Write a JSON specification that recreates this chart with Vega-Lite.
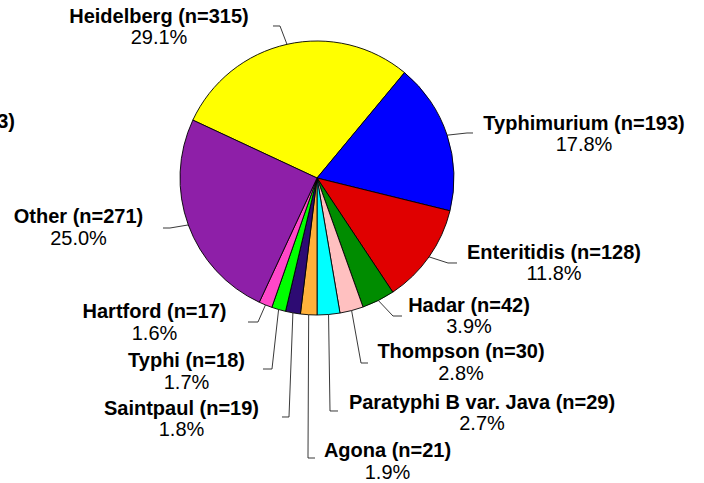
{
  "$schema": "https://vega.github.io/schema/vega-lite/v6.json",
  "autosize": "none",
  "width": 634,
  "height": 356,
  "padding": {"left": 0, "top": 0, "right": 70, "bottom": 127},
  "background": "white",
  "config": {"view": {"stroke": null}},
  "datasets": {
    "slices": [
      {"idx": 0, "name": "Heidelberg", "n": 315},
      {"idx": 1, "name": "Typhimurium", "n": 193},
      {"idx": 2, "name": "Enteritidis", "n": 128},
      {"idx": 3, "name": "Hadar", "n": 42},
      {"idx": 4, "name": "Thompson", "n": 30},
      {"idx": 5, "name": "Paratyphi B var. Java", "n": 29},
      {"idx": 6, "name": "Agona", "n": 21},
      {"idx": 7, "name": "Saintpaul", "n": 19},
      {"idx": 8, "name": "Typhi", "n": 18},
      {"idx": 9, "name": "Hartford", "n": 17},
      {"idx": 10, "name": "Other", "n": 271}
    ],
    "labels": [
      {"label": "Heidelberg (n=315)", "pct": "29.1%", "x": -1.1533, "y": 1.1314},
      {"label": "Typhimurium (n=193)", "pct": "17.8%", "x": 1.9489, "y": 0.3504},
      {"label": "Enteritidis (n=128)", "pct": "11.8%", "x": 1.7299, "y": -0.5912},
      {"label": "Hadar (n=42)", "pct": "3.9%", "x": 1.1095, "y": -0.9781},
      {"label": "Thompson (n=30)", "pct": "2.8%", "x": 1.0511, "y": -1.3139},
      {"label": "Paratyphi B var. Java (n=29)", "pct": "2.7%", "x": 1.2044, "y": -1.6861},
      {"label": "Agona (n=21)", "pct": "1.9%", "x": 0.5146, "y": -2.0365},
      {"label": "Saintpaul (n=19)", "pct": "1.8%", "x": -0.9891, "y": -1.7299},
      {"label": "Typhi (n=18)", "pct": "1.7%", "x": -0.9526, "y": -1.3796},
      {"label": "Hartford (n=17)", "pct": "1.6%", "x": -1.1861, "y": -1.0219},
      {"label": "Other (n=271)", "pct": "25.0%", "x": -1.7409, "y": -0.3285}
    ],
    "title": [
      {"label": "All serotypes (n=1083)", "x": -2.2044, "y": 0.365}
    ],
    "leaders": [
      {"s": "Heidelberg", "o": 0, "x": -0.219, "y": 0.9757},
      {"s": "Heidelberg", "o": 1, "x": -0.2701, "y": 1.1095},
      {"s": "Heidelberg", "o": 2, "x": -0.3212, "y": 1.1095},
      {"s": "Typhimurium", "o": 0, "x": 0.9499, "y": 0.3125},
      {"s": "Typhimurium", "o": 1, "x": 1.0949, "y": 0.3285},
      {"s": "Typhimurium", "o": 2, "x": 1.1387, "y": 0.3285},
      {"s": "Enteritidis", "o": 0, "x": 0.8177, "y": -0.5757},
      {"s": "Enteritidis", "o": 1, "x": 0.9562, "y": -0.6204},
      {"s": "Enteritidis", "o": 2, "x": 1.0219, "y": -0.6204},
      {"s": "Hadar", "o": 0, "x": 0.4477, "y": -0.8942},
      {"s": "Hadar", "o": 1, "x": 0.5547, "y": -1.0073},
      {"s": "Hadar", "o": 2, "x": 0.6204, "y": -1.0073},
      {"s": "Thompson", "o": 0, "x": 0.2526, "y": -0.9676},
      {"s": "Thompson", "o": 1, "x": 0.3212, "y": -1.3504},
      {"s": "Thompson", "o": 2, "x": 0.3723, "y": -1.3504},
      {"s": "Paratyphi", "o": 0, "x": 0.0842, "y": -0.9964},
      {"s": "Paratyphi", "o": 1, "x": 0.0949, "y": -1.7007},
      {"s": "Paratyphi", "o": 2, "x": 0.1533, "y": -1.7007},
      {"s": "Agona", "o": 0, "x": -0.0607, "y": -0.9982},
      {"s": "Agona", "o": 1, "x": -0.0657, "y": -2.0438},
      {"s": "Agona", "o": 2, "x": -0.0146, "y": -2.0438},
      {"s": "Saintpaul", "o": 0, "x": -0.1759, "y": -0.9844},
      {"s": "Saintpaul", "o": 1, "x": -0.2044, "y": -1.7445},
      {"s": "Saintpaul", "o": 2, "x": -0.2555, "y": -1.7445},
      {"s": "Typhi", "o": 0, "x": -0.2803, "y": -0.9599},
      {"s": "Typhi", "o": 1, "x": -0.3285, "y": -1.3942},
      {"s": "Typhi", "o": 2, "x": -0.3942, "y": -1.3942},
      {"s": "Hartford", "o": 0, "x": -0.3762, "y": -0.9265},
      {"s": "Hartford", "o": 1, "x": -0.4307, "y": -1.0511},
      {"s": "Hartford", "o": 2, "x": -0.5036, "y": -1.0511},
      {"s": "Other", "o": 0, "x": -0.9395, "y": -0.3427},
      {"s": "Other", "o": 1, "x": -1.073, "y": -0.365},
      {"s": "Other", "o": 2, "x": -1.1241, "y": -0.365}
    ]
  },
  "layer": [
    {
      "data": {"name": "leaders"},
      "mark": {"type": "line", "color": "#222222", "strokeWidth": 0.9, "clip": false},
      "encoding": {
        "x": {"field": "x", "type": "quantitative", "scale": {"domain": [-2.31387, 2.31387], "nice": false, "zero": false}, "axis": null},
        "y": {"field": "y", "type": "quantitative", "scale": {"domain": [-1.29927, 1.29927], "nice": false, "zero": false}, "axis": null},
        "detail": {"field": "s"},
        "order": {"field": "o"}
      }
    },
    {
      "data": {"name": "slices"},
      "mark": {"type": "arc", "outerRadius": 137, "stroke": "black", "strokeWidth": 0.9},
      "encoding": {
        "theta": {"field": "n", "type": "quantitative", "stack": true, "scale": {"range": [-1.1345, 5.1487]}},
        "order": {"field": "idx", "type": "quantitative"},
        "color": {
          "field": "name", "type": "nominal", "legend": null,
          "scale": {
            "domain": ["Heidelberg", "Typhimurium", "Enteritidis", "Hadar", "Thompson", "Paratyphi B var. Java", "Agona", "Saintpaul", "Typhi", "Hartford", "Other"],
            "range": ["#FFFF00", "#0000FF", "#E00000", "#008C00", "#FFC0C0", "#00FFFF", "#FFB13B", "#2D0B73", "#00FF00", "#FF47C8", "#8E1FA8"]
          }
        }
      }
    },
    {
      "data": {"name": "labels"},
      "mark": {"type": "text", "font": "Liberation Sans", "fontWeight": "bold", "fontSize": 20, "align": "center", "baseline": "alphabetic", "color": "black"},
      "encoding": {
        "x": {"field": "x", "type": "quantitative"},
        "y": {"field": "y", "type": "quantitative"},
        "text": {"field": "label"}
      }
    },
    {
      "data": {"name": "labels"},
      "mark": {"type": "text", "font": "Liberation Sans", "fontSize": 20, "align": "center", "baseline": "alphabetic", "dy": 21.5, "color": "black"},
      "encoding": {
        "x": {"field": "x", "type": "quantitative"},
        "y": {"field": "y", "type": "quantitative"},
        "text": {"field": "pct"}
      }
    },
    {
      "data": {"name": "title"},
      "mark": {"type": "text", "font": "Liberation Sans", "fontWeight": "bold", "fontSize": 20, "align": "right", "baseline": "alphabetic", "color": "black"},
      "encoding": {
        "x": {"field": "x", "type": "quantitative"},
        "y": {"field": "y", "type": "quantitative"},
        "text": {"field": "label"}
      }
    }
  ]
}
